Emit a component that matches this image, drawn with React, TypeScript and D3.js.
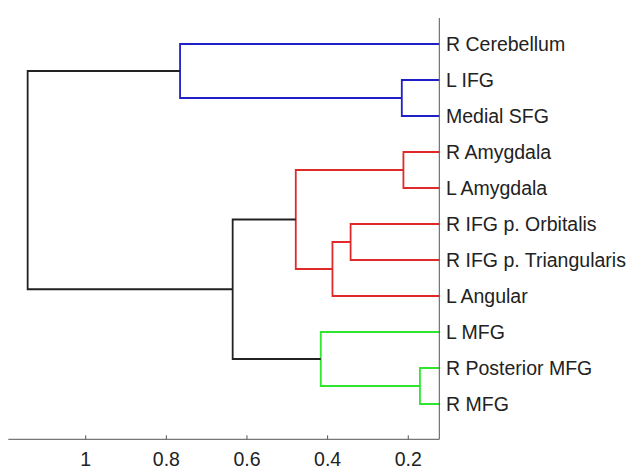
import React from "react";
import * as d3 from "d3";

const leaves = [
  "R Cerebellum",
  "L IFG",
  "Medial SFG",
  "R Amygdala",
  "L Amygdala",
  "R IFG p. Orbitalis",
  "R IFG p. Triangularis",
  "L Angular",
  "L MFG",
  "R Posterior MFG",
  "R MFG",
];

// merges: child A, child B, height, colour group (node ids: 0..10 leaves, 11+ merged nodes in order)
const mergeA = [1, 0, 3, 5, 14, 13, 9, 8, 16, 12];
const mergeB = [2, 11, 4, 6, 7, 15, 10, 17, 18, 19];
const mergeHeight = [0.216, 0.766, 0.212, 0.343, 0.388, 0.479, 0.171, 0.417, 0.6355, 1.144];
const mergeGroup = ["blue", "blue", "red", "red", "red", "red", "green", "green", "black", "black"];

const xTicks = [1, 0.8, 0.6, 0.4, 0.2];

const colours: Record<string, string> = {
  blue: "#1f1fc8",
  red: "#e02a2a",
  green: "#2ee62e",
  black: "#222222",
};

export default function App() {
  const W = 627;
  const H = 469;
  const left = 8.3;
  const right = 439.3;
  const axisY = 439.3;
  const topY = 18;

  const x = d3.scaleLinear().domain([1.192, 0.123]).range([left, right]).clamp(true);
  const y = d3.scaleLinear().domain([1, leaves.length]).range([44, 404]);

  const nodeY: number[] = leaves.map((_, i) => y(i + 1));
  const nodeH: number[] = leaves.map(() => 0);
  const paths: { d: string; c: string }[] = [];
  mergeA.forEach((a, k) => {
    const b = mergeB[k];
    const h = mergeHeight[k];
    const ya = nodeY[a];
    const yb = nodeY[b];
    const p = d3.path();
    p.moveTo(x(nodeH[a]), ya);
    p.lineTo(x(h), ya);
    p.lineTo(x(h), yb);
    p.lineTo(x(nodeH[b]), yb);
    paths.push({ d: p.toString(), c: colours[mergeGroup[k]] });
    nodeY.push((ya + yb) / 2);
    nodeH.push(h);
  });

  const font = "'Liberation Sans', Arial, Helvetica, sans-serif";

  return (
    <svg
      width={W}
      height={H}
      style={{ position: "absolute", left: 0, top: 0, background: "#fff" }}
      fontFamily={font}
    >
      {paths.map((p, i) => (
        <path key={i} d={p.d} fill="none" stroke={p.c} strokeWidth={1.8} />
      ))}
      <line x1={left} x2={right} y1={axisY} y2={axisY} stroke="#555" strokeWidth={1} />
      <line x1={right} x2={right} y1={topY} y2={axisY} stroke="#555" strokeWidth={1} />
      {xTicks.map((t) => (
        <g key={t}>
          <line x1={x(t)} x2={x(t)} y1={axisY} y2={axisY - 4} stroke="#555" strokeWidth={1} />
          <text x={x(t)} y={465.5} textAnchor="middle" fontSize={19.5} fill="#222">
            {String(t)}
          </text>
        </g>
      ))}
      {leaves.map((name, i) => (
        <text key={name} x={446} y={y(i + 1)} dy="0.36em" fontSize={19.5} fill="#222">
          {name}
        </text>
      ))}
    </svg>
  );
}
